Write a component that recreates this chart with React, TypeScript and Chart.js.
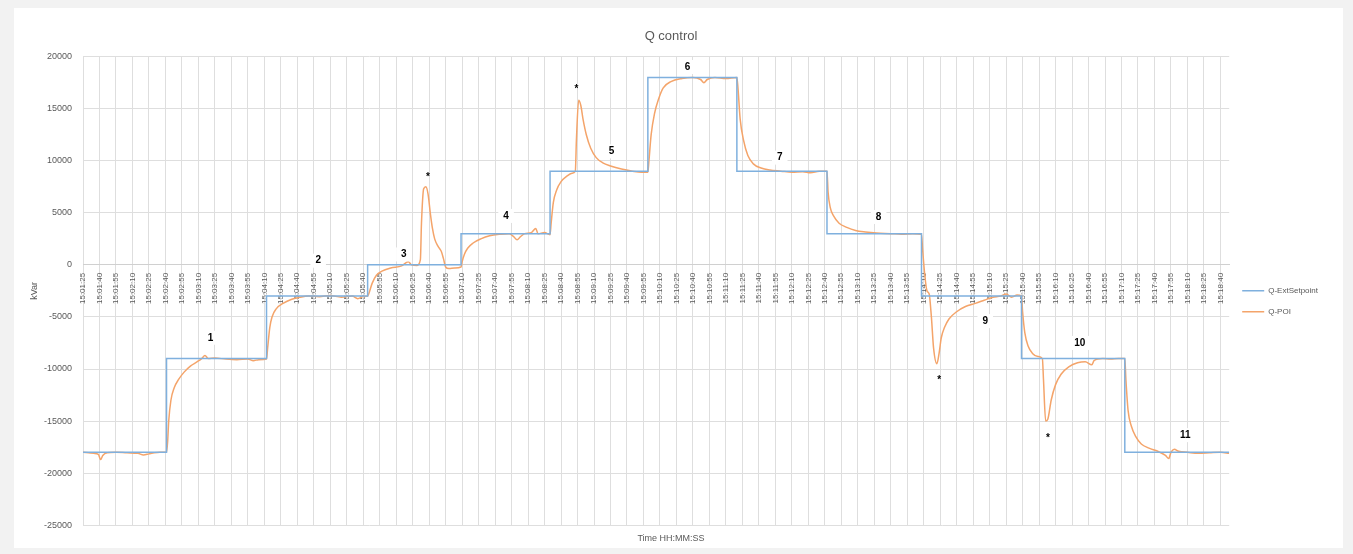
import React, { useEffect, useRef } from "react";
import { Chart, registerables } from "chart.js";

Chart.register(...registerables);

// Seconds after 15:01:25
const setTimes = [0, 76, 167, 259, 344, 425, 514, 595, 677, 763, 854, 948, 1043];
const setValues = [-18000, -9000, -3000, 0, 3000, 9000, 18000, 9000, 3000, -3000, -9000, -18000, -18000];

const poiTimes = [
  0, 5, 10, 14, 16, 18, 22, 30, 40, 50, 55, 60, 65, 70, 76,
  77, 78, 80, 83, 87, 92, 98, 104, 108, 111, 114, 120, 130, 140, 150, 155, 160, 167,
  168, 170, 172, 176, 182, 190, 198, 205, 215, 225, 235, 245, 250, 255, 259,
  260, 263, 267, 272, 280, 290, 296, 299, 304, 307, 308, 310, 312, 314, 316, 318, 320, 323, 326, 328, 330, 333, 338, 344,
  345, 347, 350, 355, 362, 370, 380, 388, 392, 395, 398, 402, 408, 412, 414, 420, 425,
  426, 428, 431, 435, 440, 445, 448, 449, 451, 453, 455, 458, 462, 467, 473, 480, 490, 500, 508, 514,
  515, 517, 520, 524, 528, 535, 545, 555, 562, 565, 568, 575, 585, 595,
  596, 598, 601, 605, 610, 617, 625, 635, 645, 655, 662, 670, 677,
  678, 680, 683, 688, 695, 703, 712, 722, 735, 745, 755, 763,
  764, 766, 768, 770, 772, 774, 777, 779, 781, 784, 788, 795, 803, 812, 820, 828, 835, 840, 845, 850, 854,
  855, 857, 860, 864, 869, 873, 874, 876, 878, 881, 885, 890, 897, 905, 912, 918, 920, 928, 935, 942, 948,
  949, 951, 954, 958, 963, 970, 978, 985, 988, 990, 993, 997, 1005, 1015, 1025, 1035, 1043,
];
const poiValues = [
  -18000, -18050, -18100, -18200, -18700, -18300, -18050, -18000, -18050, -18100, -18250, -18150, -18050, -18000, -18000,
  -17000, -15000, -13000, -11800, -11000, -10300, -9700, -9300, -9000, -8700, -9000, -8950, -9050, -9100, -9050, -9200, -9100, -9050,
  -8000, -6000, -5000, -4200, -3700, -3300, -3100, -3000, -3050, -2950, -3100, -3000, -3250, -3050, -3000,
  -2800, -1800, -1000, -600, -300, -100, 300, 0, -50, 500, 4000, 7300, 7500, 6800, 5000, 3500, 2500, 1800, 1300, 600, -200, -350, -300, -200,
  300, 1000, 1600, 2100, 2500, 2800, 2950, 3000, 2700, 2400, 2700, 3000, 3100, 3500, 3000, 3100, 2900,
  4000, 6000, 7200, 8000, 8500, 8800, 9000, 12000, 15800, 15300, 14000, 12500, 11200, 10300, 9800, 9500, 9200, 9000, 8900, 8900,
  10000, 12500, 14500, 16000, 17000, 17600, 17900, 18000, 17800, 17500, 17800, 18000, 17900, 18000,
  17000, 14000, 12000, 10500, 9700, 9300, 9100, 9000, 8900, 8950, 8850, 9000, 9000,
  7000, 5500, 4700, 4000, 3600, 3300, 3150, 3050, 3000, 2950, 3000, 2950,
  1500, -1000, -2500, -2800, -5000, -8000, -9500, -8500, -7000, -6000, -5200, -4500, -4000, -3700, -3400, -3100, -3000, -2800, -3100, -2900, -3000,
  -4500, -6500, -7800, -8500, -8800, -9000, -11000, -15000, -14800, -13000, -11500, -10500, -9800, -9400, -9300, -9600, -9200, -9000, -9050, -9000, -9000,
  -11000, -14000, -15500, -16500, -17200, -17600, -17900, -18300, -18600, -18000, -17700, -17900, -18000, -18100, -18050, -18000, -18100,
];

const noteLabels = ["1", "2", "3", "4", "5", "6", "7", "8", "9", "10", "11", "*", "*", "*", "*"];
const noteTimes = [116, 214, 292, 385, 481, 550, 634, 724, 821, 907, 1003, 314, 449, 779, 878];
const noteValues = [-7000, 400, 1000, 4700, 10900, 19000, 10300, 4600, -5400, -7500, -16350, 8460, 16900, -11060, -16630];

const yTicks = [-25000, -20000, -15000, -10000, -5000, 0, 5000, 10000, 15000, 20000];
const startSeconds = 15 * 3600 + 1 * 60 + 25;

const FONT = "'Liberation Sans', Arial, sans-serif";

function fmtTime(v: number) {
  const s = startSeconds + v;
  const h = Math.floor(s / 3600);
  const m = Math.floor((s % 3600) / 60);
  const sec = s % 60;
  const p = (n: number) => String(n).padStart(2, "0");
  return `${p(h)}:${p(m)}:${p(sec)}`;
}

const notesPlugin = {
  id: "notes",
  afterDatasetsDraw(chart: any) {
    const { ctx, scales } = chart;
    ctx.save();
    ctx.font = `bold 10px ${FONT}`;
    ctx.textAlign = "center";
    ctx.textBaseline = "middle";
    noteLabels.forEach((lbl, i) => {
      const x = scales.x.getPixelForValue(noteTimes[i]);
      const y = scales.y.getPixelForValue(noteValues[i]);
      if (lbl !== "*") {
        const w = ctx.measureText(lbl).width + 10;
        ctx.fillStyle = "#ffffff";
        ctx.fillRect(x - w / 2, y - 7, w, 14);
      }
      ctx.fillStyle = "#000000";
      ctx.fillText(lbl, x, y);
    });
    ctx.restore();
  },
};

export default function App() {
  const ref = useRef<HTMLCanvasElement | null>(null);

  useEffect(() => {
    if (!ref.current) return;
    const chart = new Chart(ref.current, {
      type: "line",
      data: {
        datasets: [
          {
            label: "Q-ExtSetpoint",
            data: setTimes.map((t, i) => ({ x: t, y: setValues[i] })),
            borderColor: "#7fb0de",
            backgroundColor: "#7fb0de",
            borderWidth: 1.5,
            pointRadius: 0,
            stepped: true,
          },
          {
            label: "Q-POI",
            data: poiTimes.map((t, i) => ({ x: t, y: poiValues[i] })),
            borderColor: "#f4a46a",
            backgroundColor: "#f4a46a",
            borderWidth: 1.5,
            pointRadius: 0,
            cubicInterpolationMode: "monotone",
          },
        ],
      },
      options: {
        responsive: false,
        animation: false,
        layout: { padding: { top: 9, bottom: 0, left: 0, right: 15 } },
        plugins: {
          title: {
            display: true,
            text: "Q control",
            color: "#595959",
            font: { family: FONT, size: 13, weight: "normal" },
            padding: { top: 12, bottom: 12 },
          },
          subtitle: {
            display: true,
            text: "Time HH:MM:SS",
            position: "bottom",
            color: "#595959",
            font: { family: FONT, size: 9 },
            padding: { top: 8, bottom: 4 },
          },
          legend: {
            position: "right",
            align: "center",
            title: { display: true, text: " ", padding: 14, font: { size: 8 } },
            labels: {
              usePointStyle: true,
              pointStyle: "line",
              pointStyleWidth: 22,
              color: "#595959",
              font: { family: FONT, size: 8 },
              padding: 13,
            },
          },
          tooltip: { enabled: false },
        },
        scales: {
          x: {
            type: "linear",
            position: { y: 0 } as any,
            min: 0,
            max: 1043,
            grid: { color: "#dedede", drawTicks: false },
            border: { color: "#d0d0d0" },
            afterBuildTicks(scale: any) {
              const ticks = [];
              for (let v = 0; v <= 1035; v += 15) ticks.push({ value: v });
              scale.ticks = ticks;
            },
            ticks: {
              autoSkip: false,
              maxRotation: 90,
              minRotation: 90,
              padding: 8,
              color: "#595959",
              font: { family: FONT, size: 8 },
              callback: (v: any) => fmtTime(Number(v)),
            },
          },
          y: {
            min: -25000,
            max: 20000,
            afterBuildTicks(scale: any) {
              scale.ticks = yTicks.map((v) => ({ value: v }));
            },
            afterFit(scale: any) {
              scale.width = 69;
            },
            grid: { color: "#dedede", drawTicks: false },
            border: { display: false },
            title: {
              display: true,
              text: "kVar",
              color: "#595959",
              font: { family: FONT, size: 9 },
              padding: { top: 15, bottom: 0 },
            },
            ticks: {
              padding: 11,
              color: "#595959",
              font: { family: FONT, size: 9 },
              callback: (v: any) => String(v),
            },
          },
        },
      },
      plugins: [notesPlugin],
    } as any);
    return () => chart.destroy();
  }, []);

  return (
    <div style={{ position: "fixed", left: 0, top: 0, width: 1353, height: 554, background: "#f2f2f2" }}>
      <div style={{ position: "absolute", left: 14, top: 8, width: 1329, height: 540, background: "#ffffff" }}>
        <canvas ref={ref} width={1329} height={540} style={{ width: 1329, height: 540, display: "block" }} />
      </div>
    </div>
  );
}
